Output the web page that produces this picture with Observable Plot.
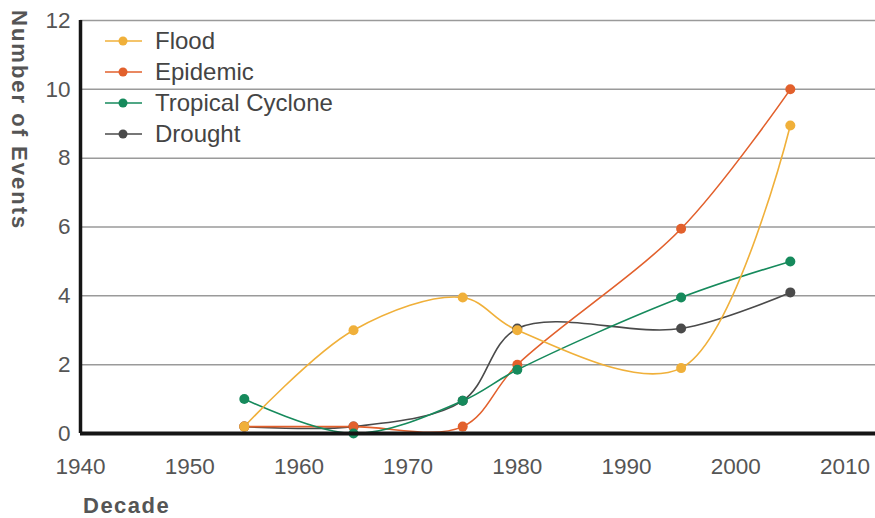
<!DOCTYPE html>
<html>
<head>
<meta charset="utf-8">
<script src="https://cdn.jsdelivr.net/npm/d3@7"></script>
<script src="https://cdn.jsdelivr.net/npm/@observablehq/plot@0.6"></script>
<style>
  html, body { margin: 0; padding: 0; background: #fff; }
  svg { display: block; }
</style>
</head>
<body>
<div id="chart"></div>
<script>
const decades = [1955, 1965, 1975, 1980, 1995, 2005];
const flood = [0.2, 3, 3.95, 3, 1.9, 8.95];
const epidemic = [0.2, 0.2, 0.2, 2, 5.95, 10];
const cyclone = [1, 0, 0.95, 1.85, 3.95, 5];
const drought = [0.2, 0.2, 0.95, 3.05, 3.05, 4.1];

const seriesNames = ["Flood", "Epidemic", "Tropical Cyclone", "Drought"];
const seriesColors = ["#f0b03a", "#e2602c", "#168a5c", "#4a4a4a"];
const drawOrder = ["Drought", "Epidemic", "Tropical Cyclone", "Flood"];

const xTicks = [1940, 1950, 1960, 1970, 1980, 1990, 2000, 2010];
const yTicks = [0, 2, 4, 6, 8, 10, 12];
const gridValues = [2, 4, 6, 8, 10, 12];

const valuesByName = {
  "Flood": flood,
  "Epidemic": epidemic,
  "Tropical Cyclone": cyclone,
  "Drought": drought
};

const rows = [];
for (const name of drawOrder) {
  valuesByName[name].forEach((v, i) => rows.push({series: name, decade: decades[i], value: v}));
}

const font = "'Liberation Sans', Arial, sans-serif";

const marks = [
  Plot.ruleY(gridValues, {stroke: "#9a9a9a", strokeWidth: 1.5}),
];
for (const name of drawOrder) {
  const data = rows.filter(d => d.series === name);
  marks.push(Plot.line(data, {x: "decade", y: "value", stroke: "series", strokeWidth: 1.6, curve: "catmull-rom"}));
}
for (const name of drawOrder) {
  const data = rows.filter(d => d.series === name);
  marks.push(Plot.dot(data, {x: "decade", y: "value", fill: "series", r: 5}));
}
marks.push(Plot.ruleY([0], {stroke: "#151515", strokeWidth: 4}));
marks.push(Plot.ruleX([xTicks[0]], {stroke: "#151515", strokeWidth: 3.5}));

const chart = Plot.plot({
  width: 875,
  height: 518,
  marginLeft: 80,
  marginRight: 0,
  marginTop: 20,
  marginBottom: 85,
  style: {fontFamily: font, fontSize: "22.5px", color: "#555", background: "#fff"},
  x: {domain: [1940, 2012.8], ticks: xTicks, tickFormat: d => String(d), tickSize: 0, tickPadding: 25, label: null},
  y: {domain: [0, 12], ticks: yTicks, tickSize: 0, tickPadding: 10, label: null},
  color: {domain: seriesNames, range: seriesColors},
  marks
});

const svg = d3.select(chart);

// y-axis title
svg.append("text")
  .attr("transform", "translate(12,10) rotate(90)")
  .attr("text-anchor", "start")
  .attr("font-family", font)
  .attr("font-size", 22)
  .attr("font-weight", "bold")
  .attr("letter-spacing", "2px")
  .attr("fill", "#555")
  .text("Number of Events");

// x-axis title
svg.append("text")
  .attr("x", 83)
  .attr("y", 513)
  .attr("text-anchor", "start")
  .attr("font-family", font)
  .attr("font-size", 22)
  .attr("font-weight", "bold")
  .attr("letter-spacing", "1.5px")
  .attr("fill", "#555")
  .text("Decade");

// legend
const lg = svg.append("g");
seriesNames.forEach((name, i) => {
  const y = 41 + 31 * i;
  lg.append("line").attr("x1", 105).attr("x2", 142).attr("y1", y).attr("y2", y)
    .attr("stroke", seriesColors[i]).attr("stroke-width", 1.6);
  lg.append("circle").attr("cx", 123).attr("cy", y).attr("r", 4.5).attr("fill", seriesColors[i]);
  lg.append("text").attr("x", 155).attr("y", y).attr("dy", "0.35em")
    .attr("text-anchor", "start")
    .attr("font-family", font).attr("font-size", 24).attr("fill", "#444").text(name);
});

document.getElementById("chart").appendChild(chart);
</script>
</body>
</html>
